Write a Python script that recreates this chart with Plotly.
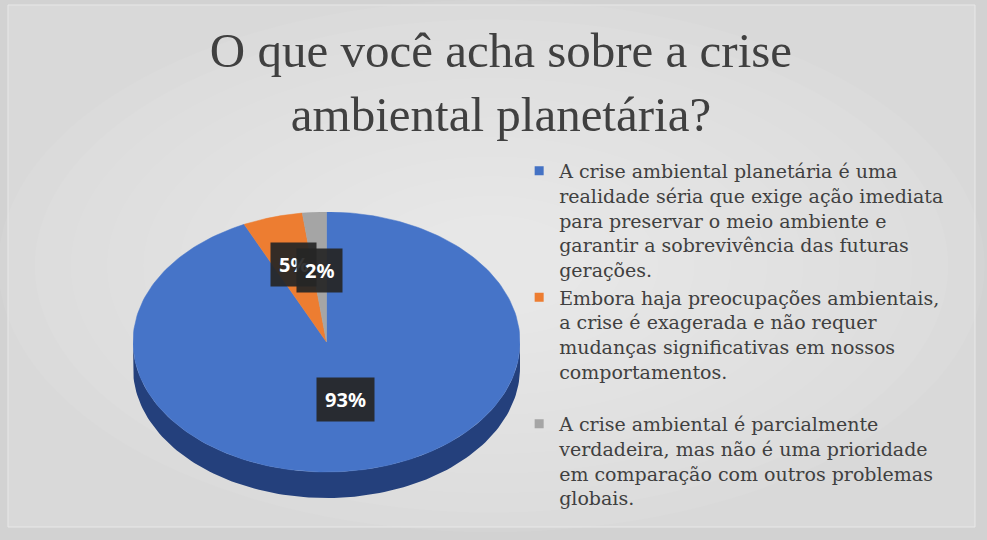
import numpy as np
import plotly.graph_objects as go

# ---- data ----
title_lines = ["O que você acha sobre a crise", "ambiental planetária?"]
categories = [
    "A crise ambiental planetária é uma<br>realidade séria que exige ação imediata<br>para preservar o meio ambiente e<br>garantir a sobrevivência das futuras<br>gerações.",
    "Embora haja preocupações ambientais,<br>a crise é exagerada e não requer<br>mudanças significativas em nossos<br>comportamentos.<br> ",
    "A crise ambiental é parcialmente<br>verdadeira, mas não é uma prioridade<br>em comparação com outros problemas<br>globais.",
]
values = [93, 5, 2]
labels = ["93%", "5%", "2%"]

# ---- style ----
top_colors = ["#4674c8", "#ed7d31", "#a5a5a5"]
side_colors = ["#24407c", "#a8561f", "#6e6e6e"]
legend_colors = ["#4472c4", "#ed7d31", "#a5a5a5"]
W, H = 987, 540
depth = 0.2          # thickness of the disc, in units of the vertical semi-axis
label_r = [0.45, 0.62, 0.55]

fig = go.Figure()

total = float(sum(values))
bounds = np.concatenate([[0.0], np.cumsum(values) / total * 360.0])

def pt(theta_deg):
    t = np.radians(theta_deg)
    return np.sin(t), np.cos(t)

# side (front half of the disc)
for i in range(len(values)):
    s = max(bounds[i], 90.0)
    e = min(bounds[i + 1], 270.0)
    if e <= s:
        continue
    th = np.linspace(s, e, 120)
    ux, uy = pt(th)
    xs = np.concatenate([ux, ux[::-1]])
    ys = np.concatenate([uy, uy[::-1] - depth])
    fig.add_trace(go.Scatter(x=xs, y=ys, fill="toself", mode="lines",
                             line=dict(width=0, color=side_colors[i]),
                             fillcolor=side_colors[i], showlegend=False,
                             hoverinfo="skip"))

# top faces
for i in range(len(values)):
    th = np.linspace(bounds[i], bounds[i + 1], 240)
    ux, uy = pt(th)
    xs = np.concatenate([[0.0], ux, [0.0]])
    ys = np.concatenate([[0.0], uy, [0.0]])
    fig.add_trace(go.Scatter(x=xs, y=ys, fill="toself", mode="lines",
                             line=dict(width=0.5, color=top_colors[i]),
                             fillcolor=top_colors[i], showlegend=False,
                             hoverinfo="skip"))

# legend entries
for i, name in enumerate(categories):
    fig.add_trace(go.Scatter(x=[None], y=[None], mode="markers", name=name,
                             marker=dict(symbol="square", size=9,
                                         color=legend_colors[i])))

# data labels
for i in range(len(values)):
    mid = (bounds[i] + bounds[i + 1]) / 2.0
    lx, ly = pt(mid)
    fig.add_annotation(x=lx * label_r[i], y=ly * label_r[i], xref="x", yref="y",
                       text="<b>%s</b>" % labels[i], showarrow=False,
                       font=dict(family="Noto Sans", size=20, color="white"),
                       bgcolor="rgba(38,38,38,0.93)", borderpad=8)

# background: frame + soft radial gradient
x0, x1 = 8 / W, 975 / W
y0, y1 = 1 - 527 / H, 1 - 5 / H
shapes = [dict(type="rect", xref="paper", yref="paper", x0=x0, x1=x1, y0=y0, y1=y1,
               fillcolor="#d9d9d9", line=dict(color="#e8e8e8", width=1), layer="below")]
cx, cy = (x0 + x1) / 2, (y0 + y1) / 2
hw, hh = (x1 - x0) / 2, (y1 - y0) / 2
for k in range(12):
    f = 1.02 - k * 0.075
    shapes.append(dict(type="circle", xref="paper", yref="paper",
                       x0=cx - hw * f, x1=cx + hw * f, y0=cy - hh * f, y1=cy + hh * f,
                       fillcolor="rgba(255,255,255,0.055)", line=dict(width=0),
                       layer="below"))

fig.update_layout(
    width=W, height=H, autosize=False,
    margin=dict(l=0, r=0, t=0, b=0),
    paper_bgcolor="#d2d2d2", plot_bgcolor="rgba(0,0,0,0)",
    shapes=shapes,
    title=dict(text="<br>".join(title_lines), x=501 / W, xanchor="center",
               y=1 - 67 / H, yanchor="middle",
               font=dict(family="Liberation Serif", size=49, color="#404040")),
    xaxis=dict(domain=[133 / W, 520 / W], range=[-1, 1], visible=False, fixedrange=True),
    yaxis=dict(domain=[1 - 498 / H, 1 - 212 / H], range=[-1 - depth, 1], visible=False,
               fixedrange=True),
    legend=dict(x=0.526, y=1 - 152 / H, xanchor="left", yanchor="top",
                bgcolor="rgba(0,0,0,0)", valign="top", tracegroupgap=0,
                font=dict(family="DejaVu Serif", size=19, color="#404040")),
    showlegend=True,
)

fig.write_html("out.html")
